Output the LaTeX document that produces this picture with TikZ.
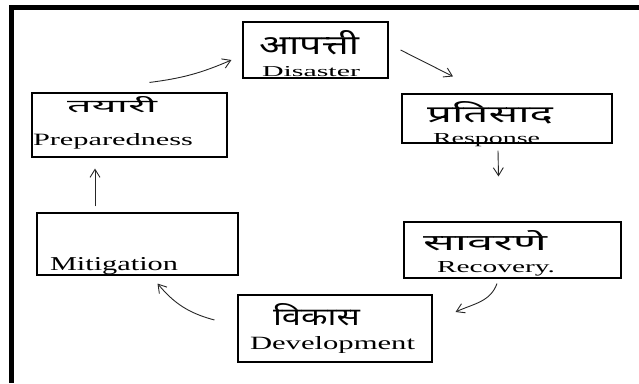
\documentclass[tikz,border=0pt]{standalone}
\usepackage{fontspec}
\usepackage{graphicx}
\setmainfont{Liberation Serif}
\newfontfamily\deva[Script=Devanagari]{Noto Sans}
\usetikzlibrary{arrows.meta,calc}
\newcommand{\fitbox}[3]{\resizebox{#1pt}{#2pt}{#3}}
\tikzset{
  stagebox/.style={draw=black, line width=1.1pt, inner sep=0pt},
  lbl/.style={anchor=base west, inner sep=0pt, outer sep=0pt},
  arr/.style={draw=black!85, line width=0.9pt, -{Straight Barb[length=8pt,width=10pt]}},
  framebar/.style={fill=black, draw=none}
}
\begin{document}
\begin{tikzpicture}[x=1pt,y=-1pt]
\useasboundingbox (0,0) rectangle (639,383);
% outer frame bars
\fill[framebar] (9,5) rectangle (639,9.5);
\fill[framebar] (9,5) rectangle (13.5,383);
% boxes
\node[stagebox, minimum width=145pt, minimum height=56pt] (dis) at (315.5,50) {};
\node[stagebox, minimum width=210pt, minimum height=49pt] (res) at (507,118.5) {};
\node[stagebox, minimum width=217pt, minimum height=56pt] (rec) at (512.5,250) {};
\node[stagebox, minimum width=194pt, minimum height=67pt] (dev) at (335,328.5) {};
\node[stagebox, minimum width=195pt, minimum height=64pt] (pre) at (129.5,125) {};
\node[stagebox, minimum width=201pt, minimum height=62pt] (mit) at (137.5,244) {};
% labels
\node[lbl] (disd) at (259,54) {\fitbox{100}{24}{\deva आपत्ती}};
\node[lbl] (dise) at (262,76) {\fitbox{98}{10}{Disaster}};
\node[lbl] (resd) at (427,122) {\fitbox{126}{21}{\deva प्रतिसाद}};
\node[lbl] (rese) at (433,143) {\fitbox{107}{10}{Response}};
\node[lbl] (recd) at (423,250) {\fitbox{124}{20}{\deva सावरणे}};
\node[lbl] (rece) at (437,272) {\fitbox{118}{11}{Recovery.}};
\node[lbl] (devd) at (273,325) {\fitbox{87}{22}{\deva विकास}};
\node[lbl] (deve) at (250,349) {\fitbox{165}{13}{Development}};
\node[lbl] (pred) at (67,112) {\fitbox{90}{16}{\deva तयारी}};
\node[lbl] (pree) at (33,145) {\fitbox{160}{12}{Preparedness}};
\node[lbl] (mite) at (50,270) {\fitbox{128}{13}{Mitigation}};
% connectors
\draw[arr] ([shift={(20,-10)}]pre.north) to[bend right=8] ([shift={(-11,10)}]dis.west);
\draw[arr] ([xshift=12]dis.east) -- ([shift={(-54,-17)}]res.north);
\draw[arr] ([shift={(-9,7)}]res.south) -- ([shift={(-14,-45)}]rec.north);
\draw[arr] ([shift={(-15.5,5)}]rec.south) to[out=-110,in=25] ([shift={(23,-16.5)}]dev.east);
\draw[arr] ([shift={(-23,-8.5)}]dev.west) to[out=165,in=-50] ([shift={(20,8)}]mit.south);
\draw[arr] ([shift={(-42.5,-6)}]mit.north) -- ([shift={(-34.5,11)}]pre.south);
\end{tikzpicture}
\end{document}
